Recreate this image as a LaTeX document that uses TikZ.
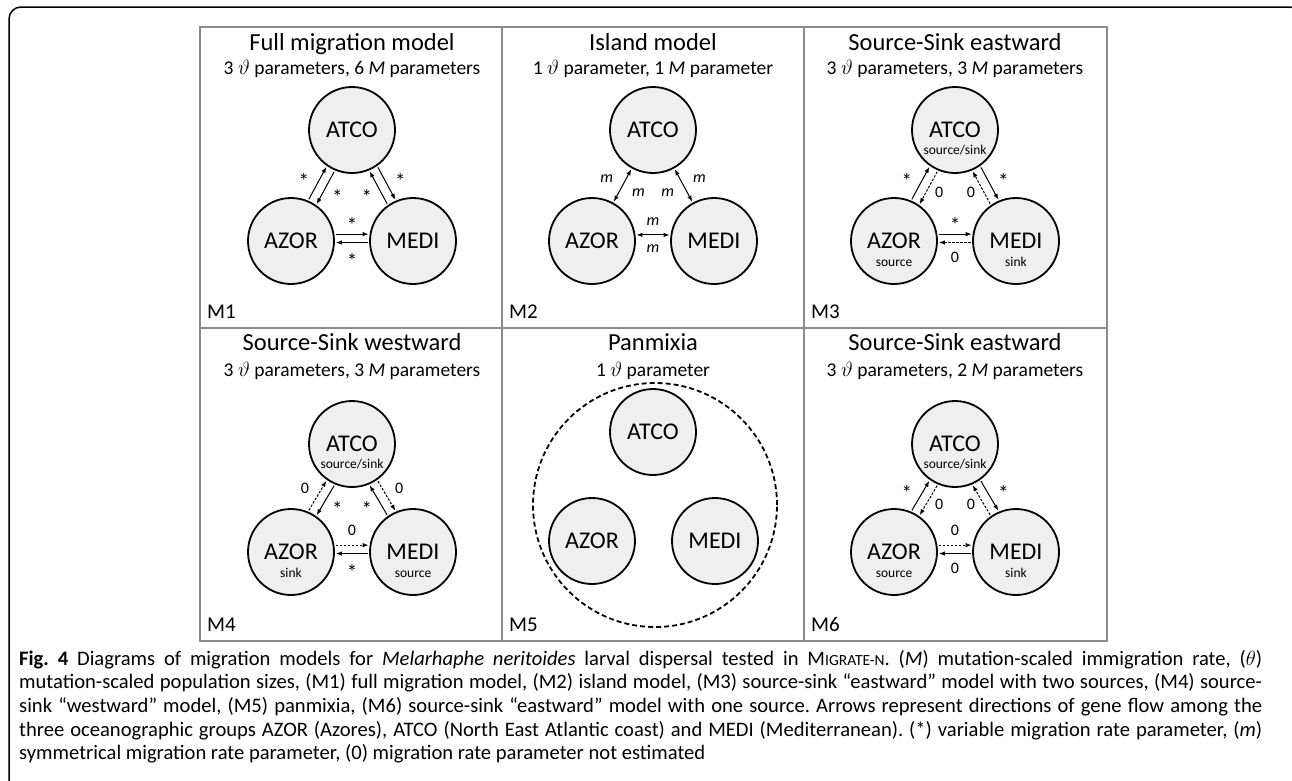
\documentclass[tikz,border=0pt]{standalone}
\usepackage{fontspec}
\setmainfont{Carlito}
\usetikzlibrary{arrows.meta,positioning,calc}
\definecolor{popfill}{HTML}{EFEFEF}
\definecolor{gridgrey}{HTML}{8C8C8C}
\newcommand{\varmig}{{\fontsize{21}{21}\selectfont\raisebox{-0.58em}[4pt][4pt]{*}}}
\tikzset{pop/.style={circle,draw=black,line width=1.8pt,fill=popfill,minimum size=86pt,inner sep=0pt,font=\fontsize{24}{24}\selectfont},role/.style={font=\fontsize{13.5}{13.5}\selectfont,inner sep=0pt,anchor=base},mig/.style={-{Latex[length=6pt,width=4.5pt]},line width=1pt,shorten >=1pt,shorten <=1.5pt},nomig/.style={mig,dash pattern=on 2.5pt off 1.5pt},mutual/.style={{Latex[length=6pt,width=4.5pt]}-{Latex[length=6pt,width=4.5pt]},line width=1pt,shorten >=1pt,shorten <=1pt},rate/.style={font=\fontsize{16}{16}\selectfont,inner sep=9pt},outleft/.style={rate,anchor=east,inner sep=8pt,yshift=7pt},outright/.style={rate,anchor=west,inner sep=8pt,yshift=7pt},inleft/.style={rate,anchor=east,inner sep=6pt,yshift=-4.5pt},inright/.style={rate,anchor=west,inner sep=6pt,yshift=-4.5pt},paneltitle/.style={font=\fontsize{24.5}{24.5}\selectfont,anchor=base,inner sep=0pt},panelsub/.style={font=\fontsize{19.5}{19.5}\selectfont,anchor=base,inner sep=0pt},paneltag/.style={font=\fontsize{21}{21}\selectfont,anchor=base west,inner sep=0pt},pool/.style={circle,draw=black,line width=1.8pt,dash pattern=on 5pt off 3pt,minimum size=244pt,inner sep=0pt}}

\begin{document}
\begin{tikzpicture}[x=1pt,y=-1pt]
\useasboundingbox (0,0) rectangle (1292,780);
\clip (0,0) rectangle (1292,780);
% frame and grid
\draw[line width=1.5pt,rounded corners=12pt] (9,800) -- (9,7) -- (1302,7) -- (1302,800);
\draw[gridgrey,line width=1.2pt] (200,27) rectangle (1107,641);
\draw[gridgrey,line width=1.2pt] (502,27) -- (502,641) (804,27) -- (804,641) (200,328) -- (1107,328);
% M1
\node[paneltitle] (m1title) at (352,50) {Full migration model};
\node[panelsub] (m1sub) at (352,74) {3 $\vartheta$ parameters, 6 \textit{M} parameters};
\node[pop] (m1atco) at (352,130) {ATCO};
\node[pop] (m1azor) at (291,241) {AZOR};
\node[pop] (m1medi) at (413,241) {MEDI};
\draw[mig] (m1azor.67) -- node[outleft]{\varmig} (m1atco.235);
\draw[mig] (m1atco.247) -- node[inright]{\varmig} (m1azor.55);
\draw[mig] (m1medi.125) -- node[inleft]{\varmig} (m1atco.293);
\draw[mig] (m1atco.305) -- node[outright]{\varmig} (m1medi.113);
\draw[mig] (m1azor.9) -- node[rate,auto]{\varmig} (m1medi.171);
\draw[mig] (m1medi.182) -- node[rate,auto]{\varmig} (m1azor.358);
\node[paneltag] (m1tag) at (207,318) {M1};
% M2
\node[paneltitle] (m2title) at (653,50) {Island model};
\node[panelsub] (m2sub) at (653,74) {1 $\vartheta$ parameter, 1 \textit{M} parameter};
\node[pop] (m2atco) at (653,130) {ATCO};
\node[pop] (m2azor) at (592,241) {AZOR};
\node[pop] (m2medi) at (714,241) {MEDI};
\draw[mutual] (m2azor.61) -- node[outleft,inner sep=9pt]{\textit{m}} node[inright,inner sep=9pt,yshift=-3pt]{\textit{m}} (m2atco.241);
\draw[mutual] (m2atco.299) -- node[inleft,inner sep=9pt,yshift=-3pt]{\textit{m}} node[outright,inner sep=9pt]{\textit{m}} (m2medi.119);
\draw[mutual] (m2azor.8) -- node[rate,auto]{\textit{m}} node[rate,auto,swap]{\textit{m}} (m2medi.172);
\node[paneltag] (m2tag) at (509,318) {M2};
% M3
\node[paneltitle] (m3title) at (955,50) {Source-Sink eastward};
\node[panelsub] (m3sub) at (955,74) {3 $\vartheta$ parameters, 3 \textit{M} parameters};
\node[pop] (m3atco) at (955,130) {ATCO};
\node[pop] (m3azor) at (894,241) {AZOR};
\node[pop] (m3medi) at (1016,241) {MEDI};
\node[role] (m3atcorole) at ([yshift=-24pt]m3atco.center) {source/sink};
\node[role] (m3azorrole) at ([yshift=-25pt]m3azor.center) {source};
\node[role] (m3medirole) at ([yshift=-25pt]m3medi.center) {sink};
\draw[mig] (m3azor.67) -- node[outleft]{\varmig} (m3atco.235);
\draw[nomig] (m3atco.247) -- node[inright]{0} (m3azor.55);
\draw[nomig] (m3medi.125) -- node[inleft]{0} (m3atco.293);
\draw[mig] (m3atco.305) -- node[outright]{\varmig} (m3medi.113);
\draw[mig] (m3azor.9) -- node[rate,auto]{\varmig} (m3medi.171);
\draw[nomig] (m3medi.182) -- node[rate,auto]{0} (m3azor.358);
\node[paneltag] (m3tag) at (811,318) {M3};
% M4
\node[paneltitle] (m4title) at (352,350) {Source-Sink westward};
\node[panelsub] (m4sub) at (352,376) {3 $\vartheta$ parameters, 3 \textit{M} parameters};
\node[pop] (m4atco) at (352,444) {ATCO};
\node[pop] (m4azor) at (291,552) {AZOR};
\node[pop] (m4medi) at (413,552) {MEDI};
\node[role] (m4atcorole) at ([yshift=-24pt]m4atco.center) {source/sink};
\node[role] (m4azorrole) at ([yshift=-25pt]m4azor.center) {sink};
\node[role] (m4medirole) at ([yshift=-25pt]m4medi.center) {source};
\draw[nomig] (m4azor.67) -- node[outleft]{0} (m4atco.235);
\draw[mig] (m4atco.247) -- node[inright]{\varmig} (m4azor.55);
\draw[mig] (m4medi.125) -- node[inleft]{\varmig} (m4atco.293);
\draw[nomig] (m4atco.305) -- node[outright]{0} (m4medi.113);
\draw[nomig] (m4azor.9) -- node[rate,auto]{0} (m4medi.171);
\draw[mig] (m4medi.182) -- node[rate,auto]{\varmig} (m4azor.358);
\node[paneltag] (m4tag) at (207,631) {M4};
% M5
\node[paneltitle] (m5title) at (653,350) {Panmixia};
\node[panelsub] (m5sub) at (653,376) {1 $\vartheta$ parameter};
\node[pool] (m5pool) at (655,505) {};
\node[pop] (m5atco) at (653,432) {ATCO};
\node[pop] (m5azor) at (592,541) {AZOR};
\node[pop] (m5medi) at (715,541) {MEDI};
\node[paneltag] (m5tag) at (509,631) {M5};
% M6
\node[paneltitle] (m6title) at (955,350) {Source-Sink eastward};
\node[panelsub] (m6sub) at (955,376) {3 $\vartheta$ parameters, 2 \textit{M} parameters};
\node[pop] (m6atco) at (955,444) {ATCO};
\node[pop] (m6azor) at (894,552) {AZOR};
\node[pop] (m6medi) at (1016,552) {MEDI};
\node[role] (m6atcorole) at ([yshift=-24pt]m6atco.center) {source/sink};
\node[role] (m6azorrole) at ([yshift=-25pt]m6azor.center) {source};
\node[role] (m6medirole) at ([yshift=-25pt]m6medi.center) {sink};
\draw[mig] (m6azor.67) -- node[outleft]{\varmig} (m6atco.235);
\draw[nomig] (m6atco.247) -- node[inright]{0} (m6azor.55);
\draw[nomig] (m6medi.125) -- node[inleft]{0} (m6atco.293);
\draw[mig] (m6atco.305) -- node[outright]{\varmig} (m6medi.113);
\draw[nomig] (m6azor.9) -- node[rate,auto]{0} (m6medi.171);
\draw[mig] (m6medi.182) -- node[rate,auto]{0} (m6azor.358);
\node[paneltag] (m6tag) at (811,631) {M6};
% caption
\node[anchor=north west,inner sep=0pt,text width=1243pt,align=justify,font=\fontsize{20.6}{23.6}\selectfont\frenchspacing] (caption) at (19,650) {{\bfseries Fig. 4} Diagrams of migration models for \textit{Melarhaphe neritoides} larval dispersal tested in M{\fontsize{15.5}{15.5}\selectfont IGRATE-N}. (\textit{M}) mutation-scaled immigration rate, ($\theta$)\linebreak mutation-scaled population sizes, (M1) full migration model, (M2) island model, (M3) source-sink “eastward” model with two sources, (M4) source-\linebreak sink “westward” model, (M5) panmixia, (M6) source-sink “eastward” model with one source. Arrows represent directions of gene flow among the\linebreak three oceanographic groups AZOR (Azores), ATCO (North East Atlantic coast) and MEDI (Mediterranean). (*) variable migration rate parameter, (\textit{m})\linebreak symmetrical migration rate parameter, (0) migration rate parameter not estimated};
\end{tikzpicture}
\end{document}
